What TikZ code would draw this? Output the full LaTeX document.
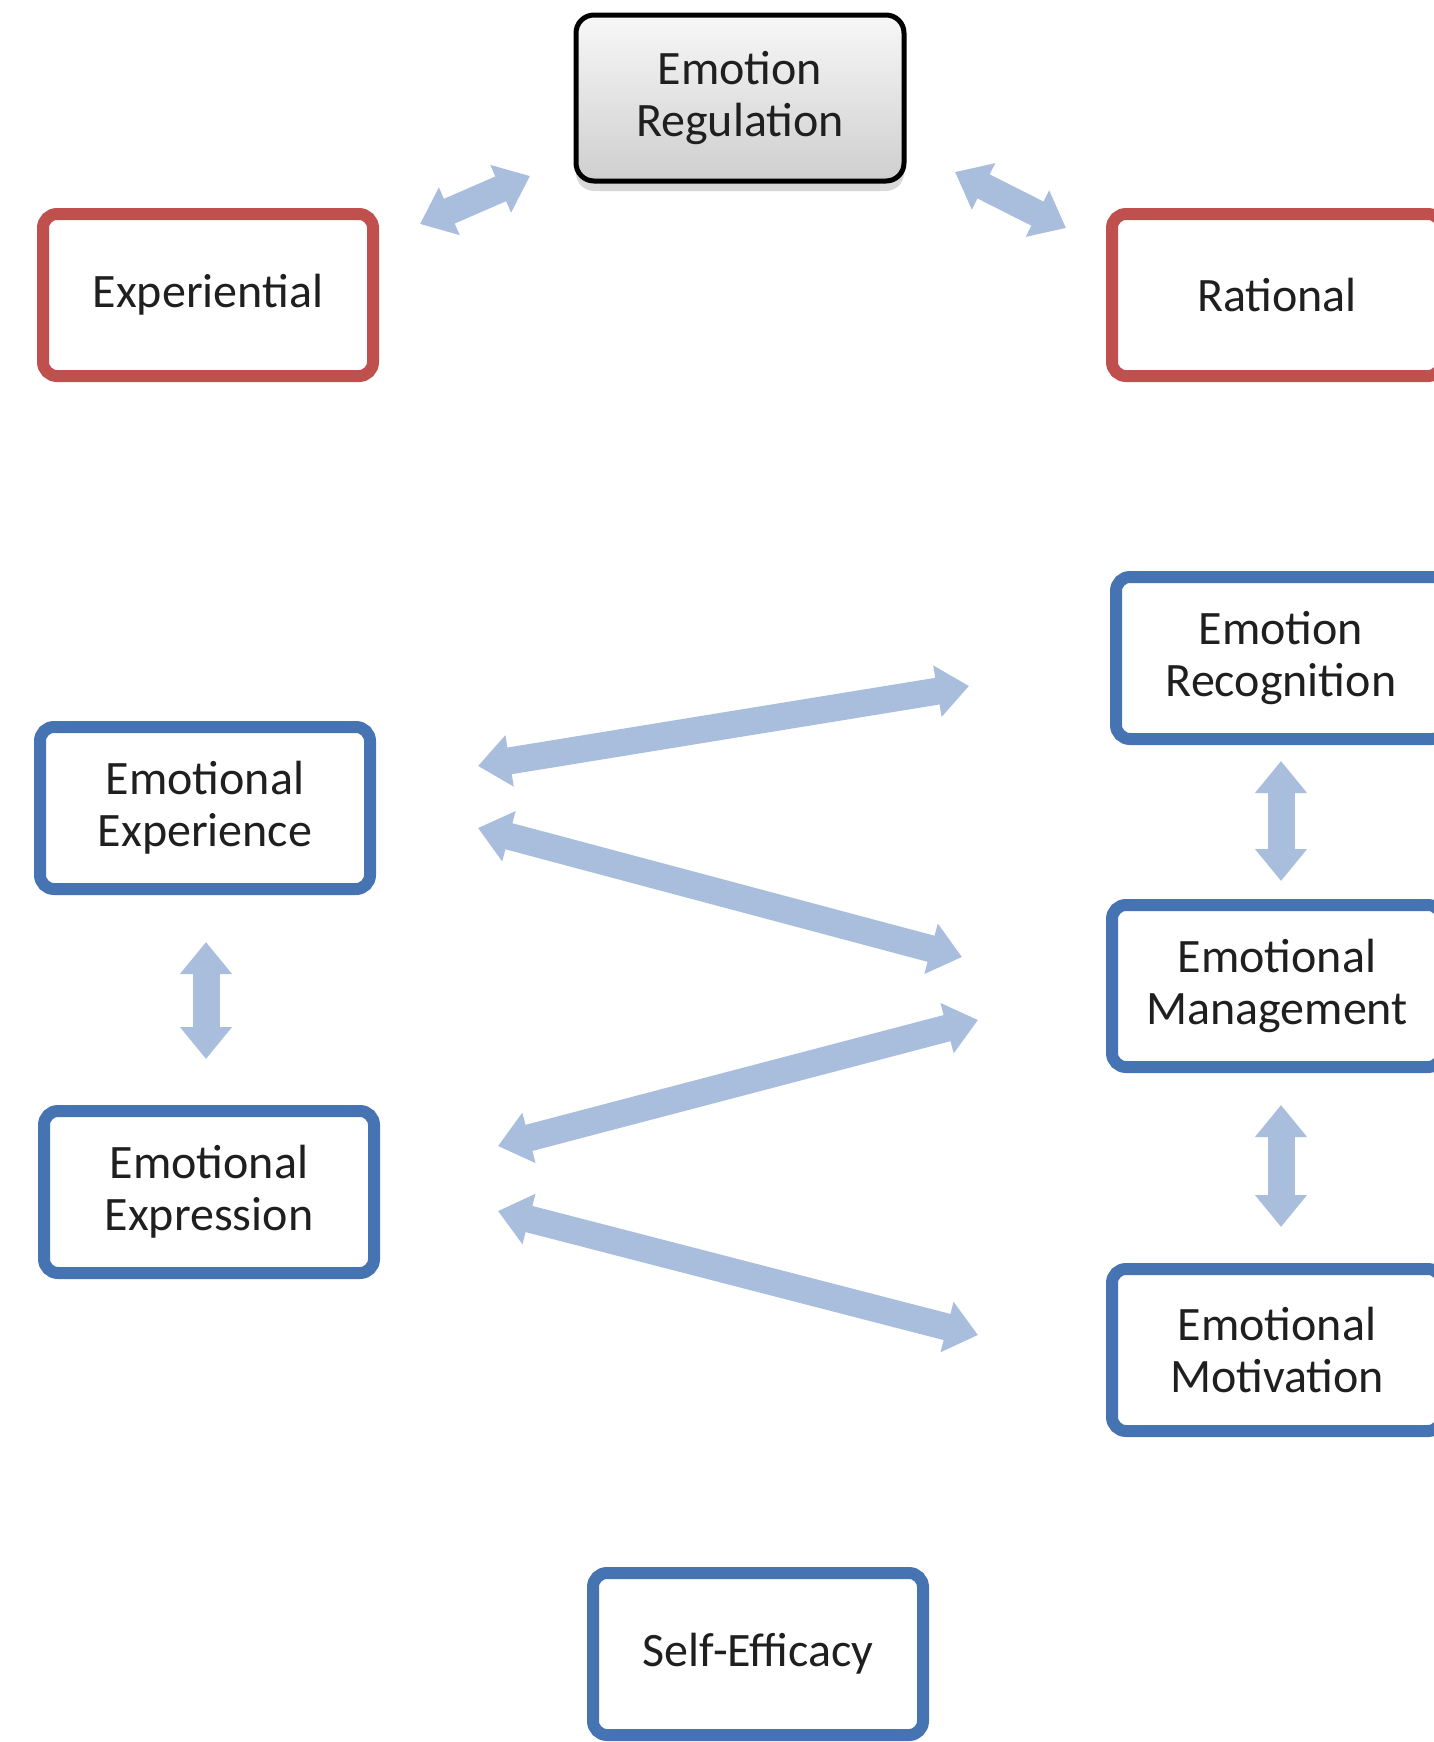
\documentclass[tikz,border=0pt]{standalone}
\usepackage{fontspec}
\setmainfont{Carlito}
\usetikzlibrary{arrows.meta,shadows}
\definecolor{boxred}{HTML}{C0504D}
\definecolor{boxblue}{HTML}{4674B2}
\definecolor{arrowblue}{HTML}{A9BEDD}
\tikzset{
  basebox/.style={line width=6pt, rounded corners=7pt, fill=white, minimum width=165pt,
    minimum height=81pt, align=center, font=\fontsize{24}{26}\selectfont, text=black!88},
  redbox/.style={basebox, draw=boxred},
  bluebox/.style={basebox, draw=boxblue},
  topbox/.style={basebox, draw=black, line width=2.5pt, rounded corners=9pt, minimum width=164pt,
    minimum height=83pt, top color=gray!6, bottom color=gray!38,
    drop shadow={opacity=0.3, shadow xshift=0pt, shadow yshift=-5pt}},
  biarrow/.style={draw=arrowblue, line width=13.5pt,
    {Triangle[width=25pt,length=16pt]}-{Triangle[width=25pt,length=16pt]}}
}
\begin{document}
\begin{tikzpicture}[x=0.5pt,y=-0.5pt]
  \clip (0,0) rectangle (1434,1742);
  \fill[white] (0,0) rectangle (1434,1742);
  % boxes
  \node[topbox] (reg) at (740,98) {Emotion\\Regulation};
  \node[redbox] (expl) at (208,295) {Experiential};
  \node[redbox] (rat) at (1277,295) {Rational};
  \node[bluebox] (recog) at (1281,658) {Emotion\\Recognition};
  \node[bluebox] (exper) at (205,808) {Emotional\\Experience};
  \node[bluebox] (manag) at (1277,986) {Emotional\\Management};
  \node[bluebox] (expr) at (209,1192) {Emotional\\Expression};
  \node[bluebox] (motiv) at (1277,1350) {Emotional\\Motivation};
  \node[bluebox] (self) at (758,1654) {Self-Efficacy};
  % arrow ends
  \coordinate (a1) at (420,224); \coordinate (a2) at (530,176);
  \coordinate (b1) at (955,172); \coordinate (b2) at (1066,228);
  \coordinate (c1) at (478,766); \coordinate (c2) at (969,686);
  \coordinate (d1) at (478,828); \coordinate (d2) at (962,957);
  \coordinate (e1) at (498,1146); \coordinate (e2) at (978,1020);
  \coordinate (f1) at (498,1211); \coordinate (f2) at (978,1335);
  \coordinate (g1) at (206,942); \coordinate (g2) at (206,1059);
  \coordinate (h1) at (1281,761); \coordinate (h2) at (1281,881);
  \coordinate (k1) at (1281,1105); \coordinate (k2) at (1281,1227);
  \foreach \s/\t in {a1/a2,b1/b2,c1/c2,d1/d2,e1/e2,f1/f2,g1/g2,h1/h2,k1/k2}
    \draw[biarrow] (\s) -- (\t);
\end{tikzpicture}
\end{document}
